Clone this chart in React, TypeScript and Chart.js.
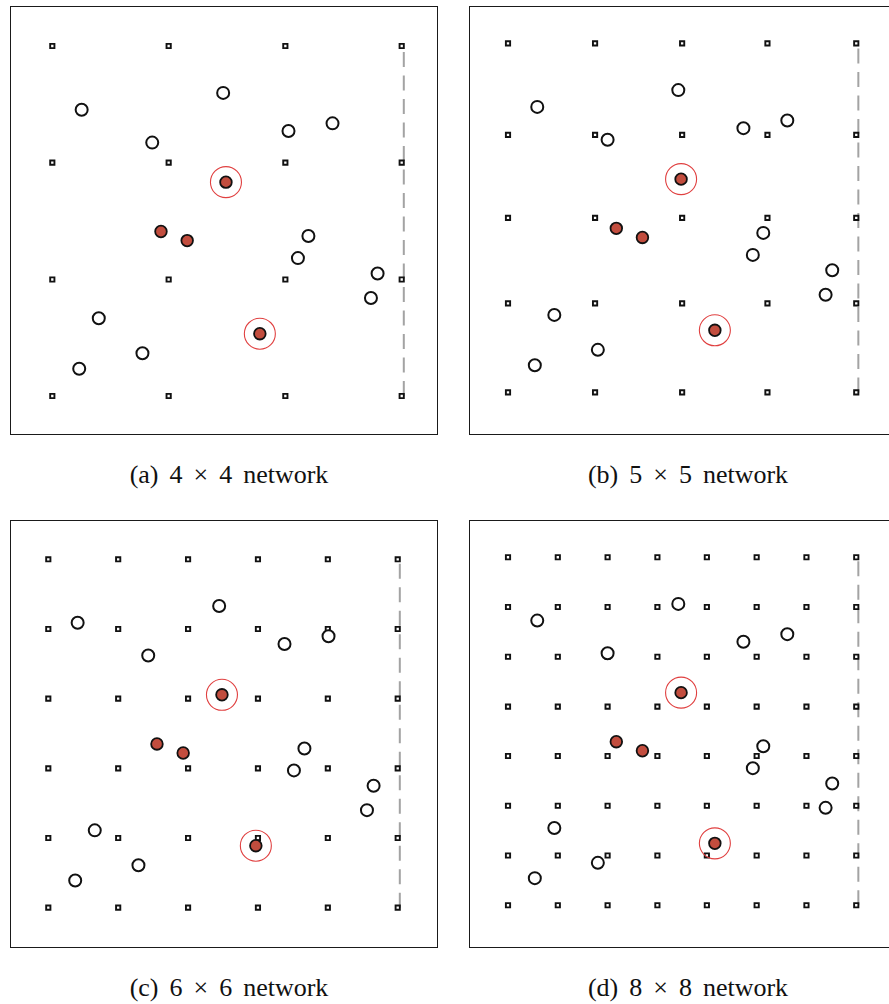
import React, { useEffect, useRef } from "react";
import { Chart, registerables } from "chart.js";

Chart.register(...registerables);

// ---- data (normalised network coordinates, grid spans 0..1) ----
const openX = [0.084, 0.489, 0.286, 0.676, 0.802, 0.733, 0.703, 0.931, 0.912, 0.133, 0.258, 0.077];
const openY = [0.818, 0.866, 0.724, 0.757, 0.779, 0.457, 0.394, 0.350, 0.280, 0.222, 0.122, 0.078];
const redX = [0.311, 0.386, 0.497, 0.594];
const redY = [0.470, 0.444, 0.611, 0.178];
const ringX = [0.497, 0.594];
const ringY = [0.611, 0.178];
const boundaryX = [1.006, 1.006];
const boundaryY = [0, 1];

const grid4 = [0, 0.333, 0.667, 1];
const grid5X = [0, 0.25, 0.5, 0.745, 1];
const grid5Y = [0, 0.255, 0.5, 0.738, 1];
const grid6 = [0, 0.2, 0.4, 0.6, 0.8, 1];
const grid8 = [0, 0.143, 0.286, 0.429, 0.571, 0.714, 0.857, 1];

const captions = ["(a) 4 × 4 network", "(b) 5 × 5 network", "(c) 6 × 6 network", "(d) 8 × 8 network"];

type Panel = {
  gx: number[];
  gy: number[];
  left: number;
  top: number;
  w: number;
  h: number;
  xMin: number;
  xMax: number;
  yMin: number;
  yMax: number;
  capX: number;
  capY: number;
  caption: string;
};

const panels: Panel[] = [
  { gx: grid4, gy: grid4, left: 10, top: 6, w: 428, h: 429, xMin: -0.1211, xMax: 1.1039, yMin: -0.1114, yMax: 1.1143, capX: 229, capY: 463, caption: captions[0] },
  { gx: grid5X, gy: grid5Y, left: 469, top: 6, w: 428, h: 429, xMin: -0.112, xMax: 1.117, yMin: -0.122, yMax: 1.107, capX: 688, capY: 463, caption: captions[1] },
  { gx: grid6, gy: grid6, left: 10, top: 520, w: 428, h: 428, xMin: -0.1096, xMax: 1.1153, yMin: -0.1157, yMax: 1.1128, capX: 229, capY: 976, caption: captions[2] },
  { gx: grid8, gy: grid8, left: 469, top: 520, w: 428, h: 428, xMin: -0.112, xMax: 1.117, yMin: -0.1227, yMax: 1.107, capX: 688, capY: 976, caption: captions[3] },
];

const framePlugin = {
  id: "frame",
  afterDraw(chart: any) {
    const { ctx, chartArea } = chart;
    ctx.save();
    ctx.strokeStyle = "#1a1a1a";
    ctx.lineWidth = 1;
    ctx.strokeRect(chartArea.left + 0.5, chartArea.top + 0.5, chartArea.right - chartArea.left - 1, chartArea.bottom - chartArea.top - 1);
    ctx.restore();
  },
};

function NetworkPanel({ p }: { p: Panel }) {
  const ref = useRef<HTMLCanvasElement | null>(null);
  useEffect(() => {
    if (!ref.current) return;
    const nodes: { x: number; y: number }[] = [];
    p.gy.forEach((y) => p.gx.forEach((x) => nodes.push({ x, y })));
    const chart = new Chart(ref.current, {
      type: "scatter",
      data: {
        datasets: [
          {
            type: "line" as any,
            data: boundaryX.map((x, i) => ({ x, y: boundaryY[i] })),
            borderColor: "#a3a3a3",
            borderWidth: 2,
            borderDash: [15, 8.5],
            pointRadius: 0,
            fill: false,
            order: 6,
          } as any,
          {
            data: nodes,
            pointStyle: "rect",
            pointRadius: 3,
            borderWidth: 1.9,
            borderColor: "#111",
            backgroundColor: "#fff",
            order: 5,
          },
          {
            data: openX.map((x, i) => ({ x, y: openY[i] })),
            pointStyle: "circle",
            pointRadius: 6,
            borderWidth: 2,
            borderColor: "#111",
            backgroundColor: "#fff",
            order: 4,
          },
          {
            data: redX.map((x, i) => ({ x, y: redY[i] })),
            pointStyle: "circle",
            pointRadius: 5.8,
            borderWidth: 1.8,
            borderColor: "#111",
            backgroundColor: "#c24d3e",
            order: 3,
          },
          {
            data: ringX.map((x, i) => ({ x, y: ringY[i] })),
            pointStyle: "circle",
            pointRadius: 15.5,
            borderWidth: 1.1,
            borderColor: "#e04040",
            backgroundColor: "rgba(0,0,0,0)",
            order: 2,
          },
        ],
      },
      options: {
        animation: false,
        responsive: false,
        maintainAspectRatio: false,
        events: [],
        layout: { padding: 0, autoPadding: false },
        plugins: { legend: { display: false }, tooltip: { enabled: false } },
        scales: {
          x: { type: "linear", display: false, min: p.xMin, max: p.xMax },
          y: { type: "linear", display: false, min: p.yMin, max: p.yMax },
        },
      },
      plugins: [framePlugin],
    });
    return () => chart.destroy();
  }, [p]);
  return (
    <>
      <canvas
        ref={ref}
        width={p.w}
        height={p.h}
        style={{ position: "absolute", left: p.left, top: p.top, width: p.w, height: p.h }}
      />
      <div
        style={{
          position: "absolute",
          left: p.capX - 150,
          width: 300,
          top: p.capY,
          textAlign: "center",
          fontFamily: "'Liberation Serif', serif",
          fontSize: 26,
          lineHeight: "24px",
          wordSpacing: 4.5,
          color: "#111",
          whiteSpace: "nowrap",
        }}
      >
        {p.caption}
      </div>
    </>
  );
}

export default function App() {
  return (
    <div
      style={{
        position: "fixed",
        left: 0,
        top: 0,
        width: 889,
        height: 1004,
        overflow: "hidden",
        background: "#fff",
      }}
    >
      {panels.map((p, i) => (
        <NetworkPanel key={i} p={p} />
      ))}
    </div>
  );
}
